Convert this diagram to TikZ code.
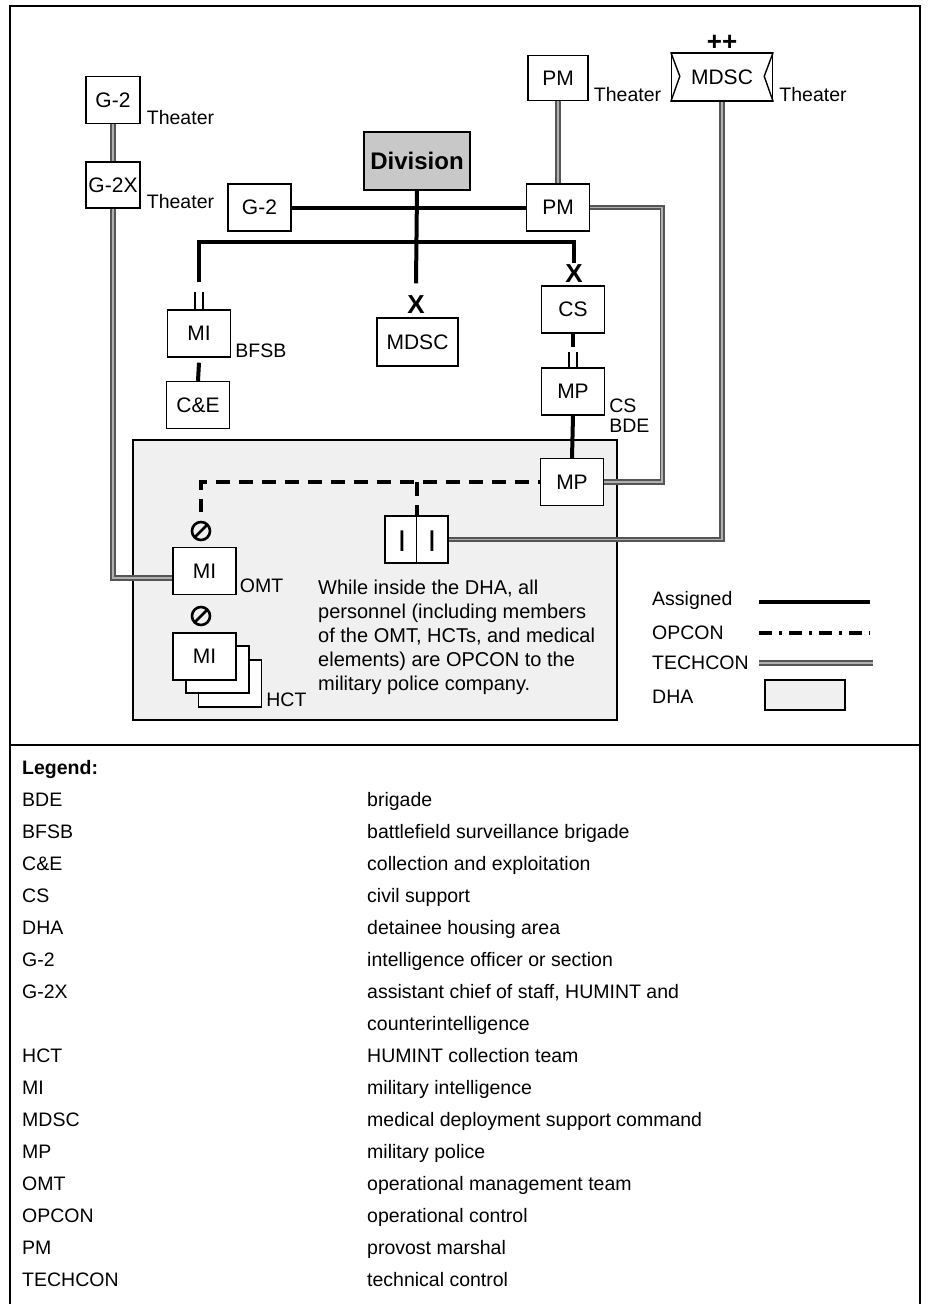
\documentclass[tikz,border=0pt]{standalone}
\usepackage{fontspec}
\setmainfont{Liberation Sans}
\usetikzlibrary{positioning, calc}
\usepackage{xcolor}

\definecolor{grisdiv}{HTML}{C8C8C8}
\definecolor{grisdha}{HTML}{F0F0F0}
\definecolor{grisoscuro}{HTML}{555555}
\definecolor{grisclaro}{HTML}{B0B0B0}

\begin{document}
\begin{tikzpicture}[
		x=1pt, y=-1pt, % un punto por pixel, y hacia abajo
		% --- Estilos ---
		caja/.style={
			draw,
			rectangle,
			line width=1.4pt,
			fill=white,
			minimum width=63pt,
			minimum height=47pt,
			inner sep=0pt,
			font=\fontsize{21}{25}\selectfont
		},
		etiqueta/.style={
			inner sep=0pt,
			font=\fontsize{19.5}{24}\selectfont
		},
		linea_asignada/.style={
			line width=4pt
		},
		linea_opcon/.style={
			line width=4pt,
			dash pattern=on 14pt off 9pt
		},
		linea_techcon/.style={
			draw=grisoscuro,
			double=grisclaro,
			line width=1.8pt,
			double distance=1.6pt
		},
		marca_x/.style={
			inner sep=0pt,
			font=\fontsize{26}{26}\selectfont\bfseries
		},
		% circulo tachado de OPCON
		simbolo_opcon/.style={
			circle,
			draw,
			line width=2.6pt,
			minimum size=18pt,
			inner sep=0pt,
			path picture={\draw[line width=2.6pt] (path picture bounding box.south west) -- (path picture bounding box.north east);}
		},
		tabla/.style={
			inner sep=0pt,
			align=left,
			font=\fontsize{19.5}{32}\selectfont
		}
		]
		\useasboundingbox (0,0) rectangle (930,1304);
		
		% 1. Marco y zona DHA
		\draw[line width=2.6pt] (10,1304) -- (10,6) -- (920,6) -- (920,1304);
		\draw[line width=2.6pt] (10,745) -- (920,745);
		\draw[line width=1.4pt, fill=grisdha] (133,440) rectangle (617,720);
		
		% 2. Nodos del teatro
		\node[caja, minimum width=54pt] (g2_teatro) at (113,100) {G-2};
		\node[etiqueta, anchor=base west] at ([xshift=6pt]g2_teatro.south east) {Theater};
		\node[caja, minimum width=54pt, minimum height=46pt] (g2x_teatro) at (113,185) {G-2X};
		\node[etiqueta, anchor=base west] at ([xshift=6pt]g2x_teatro.south east) {Theater};
		\node[caja, minimum width=60pt, minimum height=45pt] (pm_teatro) at (558,78) {PM};
		\node[etiqueta, anchor=base west] at ([xshift=5pt]pm_teatro.south east) {Theater};
		\node[caja, minimum width=101pt, minimum height=48pt] (mdsc_teatro) at (722,77) {MDSC};
		\draw[line width=1.4pt] (mdsc_teatro.north west) -- ++(9,24) -- (mdsc_teatro.south west);
		\draw[line width=1.4pt] (mdsc_teatro.north east) -- ++(-9,24) -- (mdsc_teatro.south east);
		\node[marca_x, anchor=south] at ([yshift=2pt]mdsc_teatro.north) {++};
		\node[etiqueta, anchor=base west] at ([xshift=6pt]mdsc_teatro.south east) {Theater};
		
		% 3. Division y sus elementos
		\node[caja, fill=grisdiv, minimum width=106pt, minimum height=58pt, font=\fontsize{24}{28}\selectfont\bfseries] (division) at (417,161) {Division};
		\node[caja] (g2) at (259.5,207.5) {G-2};
		\node[caja] (pm) at (558,207.5) {PM};
		\node[caja] (mi_bfsb) at (199,333.5) {MI};
		\node[etiqueta, anchor=base west] at ([xshift=4pt]mi_bfsb.south east) {BFSB};
		\node[caja] (c_e) at (198,405) {C\&E};
		\node[caja, minimum width=81pt, minimum height=48pt] (mdsc) at (417.5,342) {MDSC};
		\node[caja] (cs) at (573,309.5) {CS};
		\node[caja] (mp_bde) at (573,391.5) {MP};
		\node[etiqueta, anchor=north west, align=left, font=\fontsize{19.5}{20}\selectfont] at ([xshift=4pt,yshift=-31pt]mp_bde.north east) {CS\\BDE};
		\node[marca_x] (x_mdsc) at (416,304.5) {X};
		\node[marca_x] (x_cs) at (574,274) {X};
		
		% marcas de batallon
		\draw[line width=2.4pt] ([xshift=-4pt]mi_bfsb.north) -- ++(0,-17);
		\draw[line width=2.4pt] ([xshift=4pt]mi_bfsb.north) -- ++(0,-17);
		\draw[line width=2.4pt] ([xshift=-4pt]mp_bde.north) -- ++(0,-15);
		\draw[line width=2.4pt] ([xshift=4pt]mp_bde.north) -- ++(0,-15);
		
		% 4. Lineas asignadas
		\coordinate (barra_izq) at (199,242);
		\coordinate (barra_der) at (574,242);
		\draw[linea_asignada] (division.south) -- ([yshift=12pt]x_mdsc.north);
		\draw[linea_asignada] (g2.east) -- (pm.west);
		\draw[linea_asignada] ([yshift=27pt]mi_bfsb.north) -- (barra_izq) -- (barra_der) -- ([yshift=2pt]x_cs.north);
		\draw[linea_asignada] ([yshift=-5pt]mi_bfsb.south) -- (c_e.north);
		\draw[linea_asignada] (cs.south) -- ([yshift=20pt]mp_bde.north);
		
		% 5. Elementos dentro del DHA
		\node[caja] (mp_dha) at (572,482) {MP};
		\draw[linea_asignada] (mp_bde.south) -- (mp_dha.north);
		\node[simbolo_opcon] (opcon_omt) at (201,531) {};
		\node[caja] (mi_omt) at (204.5,571) {MI};
		\node[etiqueta, anchor=base west] at ([xshift=3pt,yshift=3pt]mi_omt.south east) {OMT};
		\node[simbolo_opcon] (opcon_hct) at (201,616) {};
		\node[caja] (mi_hct3) at (230,683.5) {};
		\node[caja] (mi_hct2) at (217.5,669.5) {};
		\node[caja] (mi_hct) at (204.5,656.5) {MI};
		\node[etiqueta, anchor=base west] at ([xshift=4pt,yshift=1pt]mi_hct3.south east) {HCT};
		\node[caja] (ii) at (416.5,539.5) {};
		\draw[line width=1.4pt] (ii.north) -- (ii.south);
		\node[inner sep=0pt, font=\fontsize{30}{30}\selectfont] at (402,541) {I};
		\node[inner sep=0pt, font=\fontsize{30}{30}\selectfont] at (432,541) {I};
		\node[etiqueta, anchor=north west, align=left, font=\fontsize{20}{24}\selectfont] (texto_dha) at (318,580)
		{While inside the DHA, all\\personnel (including members\\of the OMT, HCTs, and medical\\elements) are OPCON to the\\military police company.};
		
		% 6. Lineas OPCON
		\draw[linea_opcon, dash phase=12.3pt] (mp_dha.west) -| ([yshift=9pt]opcon_omt.north);
		\draw[linea_opcon] (ii.north |- mp_dha.west) -- (ii.north);
		
		% 7. Lineas TECHCON
		\draw[linea_techcon] (g2_teatro.south) -- (g2x_teatro.north);
		\draw[linea_techcon] (g2x_teatro.south) |- ([yshift=-7pt]mi_omt.west);
		\draw[linea_techcon] (pm_teatro.south) -- (pm.north);
		\draw[linea_techcon] (pm.east) -- ++(72,0) coordinate (esquina_der) |- (mp_dha.east);
		\draw[linea_techcon] (mdsc_teatro.south) |- (ii.east);
		
		% 8. Leyenda de lineas
		\node[etiqueta, anchor=west] (ley_asignado) at (652,600) {Assigned};
		\node[etiqueta, anchor=west] (ley_opcon) at (652,633) {OPCON};
		\node[etiqueta, anchor=west] (ley_techcon) at (652,663) {TECHCON};
		\node[etiqueta, anchor=west] (ley_dha) at (652,697) {DHA};
		\draw[linea_asignada] (759,602) -- (870,602);
		\draw[line width=4pt, dash pattern=on 13pt off 7pt on 3pt off 7pt] (759,633) -- (870,633);
		\draw[linea_techcon] (759,663) -- (873,663);
		\draw[line width=1.4pt, fill=grisdha] (765,680) rectangle (845,710);
		
		% 9. Tabla de siglas
		\node[tabla, anchor=base west, font=\fontsize{19.5}{24}\selectfont\bfseries] (leyenda) at (22,774) {Legend:};
		\node[tabla, anchor=north west] (siglas) at (22,790)
		{\rule{0pt}{16pt}BDE\\BFSB\\C\&E\\CS\\DHA\\G-2\\G-2X\\\mbox{}\\HCT\\MI\\MDSC\\MP\\OMT\\OPCON\\PM\\TECHCON};
		\node[tabla, anchor=north west] (significados) at (367,790)
		{\rule{0pt}{16pt}brigade\\battlefield surveillance brigade\\collection and exploitation\\civil support\\detainee housing area\\intelligence officer or section\\assistant chief of staff, HUMINT and\\counterintelligence\\HUMINT collection team\\military intelligence\\medical deployment support command\\military police\\operational management team\\operational control\\provost marshal\\technical control};
		
	\end{tikzpicture}
\end{document}
